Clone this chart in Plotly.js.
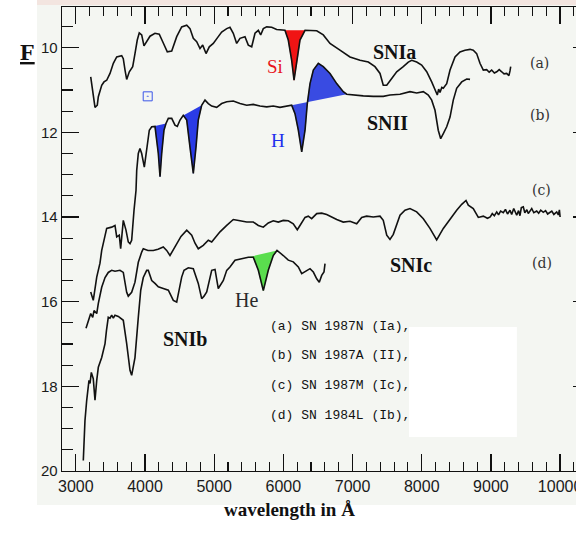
<!DOCTYPE html>
<html>
<head>
<meta charset="utf-8">
<script src="https://cdn.plot.ly/plotly-3.0.1.min.js"></script>
<style>
  html, body { margin: 0; padding: 0; background: #ffffff; }
  #chart { width: 576px; height: 536px; }
</style>
</head>
<body>
<div id="chart"></div>
<script>
// Supernova spectra: flux F (offset, magnitude-like, increasing downward) vs wavelength in Angstrom.

// (a) SN 1987N (Ia)
const wlA = [3215,3252,3277,3310,3325,3374,3407,3446,3494,3542,3591,3663,3686,3711,3735,3773,3822,3855,3888,3917,
  3952,3985,4024,4072,4144,4206,4256,4322,4386,4458,4530,4603,4650,4698,4747,4795,4834,4882,4929,4987,
  5059,5108,5181,5228,5276,5325,5373,5445,5493,5542,5590,5638,5672,5710,5759,5831,5903,5976,6023,6071,
  6120,6154,6193,6240,6313,6385,6482,6577,6674,6818,6963,7108,7228,7324,7397,7444,7494,7566,7638,7733,
  7806,7855,7927,7999,8072,8144,8192,8225,8245,8264,8290,8312,8361,8409,8481,8553,8625,8698,8745,8794,
  8842,8890,8939,8975,9011,9050,9084,9120,9156,9190,9228,9260,9276,9286];
const fluxA = [10.69,11.16,11.41,11.36,11.16,10.89,10.81,10.77,10.61,10.37,10.22,10.19,10.26,10.53,10.75,10.57,10.45,10.14,9.82,9.65,
  9.70,9.96,9.86,9.73,9.66,9.68,9.86,10.10,10.08,9.74,9.51,9.47,9.55,9.78,9.86,10.02,9.94,10.14,9.98,9.90,
  9.74,9.63,9.55,9.52,9.66,9.90,9.78,9.74,9.94,9.98,9.66,9.59,9.70,9.55,9.51,9.52,9.57,9.59,9.59,9.82,
  10.30,10.77,10.37,9.82,9.59,9.60,9.60,9.70,9.90,10.06,10.22,10.30,10.34,10.45,10.61,10.89,10.89,10.73,10.57,10.45,
  10.34,10.30,10.34,10.41,10.57,10.81,11.00,11.12,10.98,11.06,10.94,10.96,10.85,10.53,10.22,10.10,10.06,10.04,10.06,10.14,
  10.37,10.53,10.52,10.58,10.53,10.60,10.57,10.52,10.57,10.62,10.61,10.66,10.55,10.45];

// (b) SN 1987A (II)
const wlB = [3215,3252,3302,3349,3374,3422,3446,3518,3566,3591,3628,3648,3686,3725,3758,3783,3807,3841,3870,
  3880,3903,3927,3952,3990,4024,4062,4097,4144,4192,4217,4241,4274,4303,4337,4386,4433,4467,4506,4553,
  4603,4650,4698,4737,4770,4819,4867,4915,4964,5036,5108,5181,5276,5373,5470,5565,5662,5759,5854,5951,
  6048,6120,6168,6216,6265,6313,6346,6385,6433,6505,6577,6674,6771,6866,6915,7011,7155,7300,7444,7541,
  7686,7830,7927,8023,8095,8144,8192,8239,8274,8312,8361,8409,8456,8505,8578,8650,8698];
const fluxB = [15.77,15.97,15.42,15.09,14.79,14.39,14.27,14.24,14.20,14.47,14.43,14.75,14.08,14.31,14.59,14.63,14.55,13.84,13.37,
  12.90,12.50,12.38,12.50,12.82,12.35,11.95,11.87,11.86,12.50,13.05,12.50,11.95,11.79,11.67,11.67,11.83,11.86,11.71,11.60,
  11.71,12.35,12.97,12.35,11.71,11.36,11.24,11.32,11.38,11.41,11.32,11.28,11.26,11.32,11.36,11.34,11.38,11.40,11.38,11.41,
  11.38,11.36,11.56,11.95,12.46,11.95,11.32,10.85,10.53,10.37,10.45,10.61,10.85,11.04,11.10,11.12,11.14,11.15,11.15,11.12,
  11.10,11.04,11.07,11.04,11.12,11.24,11.48,11.95,12.15,12.03,11.87,11.64,11.24,10.96,10.81,10.74,10.75];

// (c) SN 1987M (Ic)
const wlC = [3147,3180,3215,3244,3263,3302,3325,3374,3422,3469,3518,3566,3638,3686,3711,3735,3758,3807,3855,3903,
  3952,3975,4043,4120,4188,4264,4313,4361,4404,4458,4520,4603,4675,4723,4770,4842,4915,4964,5026,5084,
  5181,5276,5373,5470,5565,5638,5710,5782,5854,5927,5999,6071,6143,6201,6240,6313,6360,6409,6482,6554,
  6626,6698,6771,6866,6963,7060,7132,7204,7300,7397,7444,7494,7541,7589,7638,7686,7758,7830,7927,8023,
  8119,8216,8312,8409,8505,8578,8640,8673,8745,8818,8890,8950,8990,9020,9050,9084,9110,9140,9179,9210,
  9240,9276,9300,9330,9373,9400,9420,9440,9468,9490,9520,9540,9565,9590,9620,9662,9690,9720,9757,9790,
  9820,9854,9880,9910,9951,9975,9990,10000];
const fluxC = [16.63,16.44,16.28,16.37,16.21,16.28,16.04,15.66,15.43,15.31,15.26,15.28,15.26,15.31,15.57,15.78,15.87,15.78,15.54,15.07,
  14.83,14.75,14.79,14.79,14.76,14.71,14.79,14.91,14.79,14.63,14.46,14.31,14.43,14.62,14.75,14.67,14.55,14.59,14.46,14.35,
  14.20,14.06,14.09,14.12,14.12,14.20,14.24,14.14,14.09,14.12,14.08,14.09,14.16,14.30,14.20,14.01,13.98,14.04,13.92,13.91,
  13.94,14.00,14.06,14.12,14.10,14.16,14.01,13.98,14.00,13.98,14.08,14.43,14.53,14.41,14.16,13.96,13.84,13.80,13.88,14.04,
  14.27,14.54,14.27,14.04,13.84,13.70,13.61,13.72,13.80,14.01,13.98,14.03,14.00,13.92,13.97,13.88,13.95,13.86,13.90,13.82,
  13.93,13.84,13.94,13.80,13.96,13.85,13.97,13.78,13.76,13.90,13.83,13.92,13.86,13.80,13.90,13.86,13.91,13.84,13.89,13.85,
  13.93,13.90,13.86,13.94,13.88,13.95,13.83,14.00];

// (d) SN 1984L (Ib)
const wlD = [3108,3118,3132,3157,3176,3190,3205,3224,3252,3277,3302,3325,3374,3422,3443,3469,3494,3518,3542,3566,
  3614,3653,3686,3735,3783,3807,3855,3903,3938,3975,4024,4047,4097,4144,4192,4264,4337,4409,4458,4530,
  4564,4626,4698,4770,4819,4853,4892,4964,5012,5059,5132,5181,5228,5301,5397,5493,5565,5638,5710,5782,
  5854,5908,5999,6071,6143,6216,6265,6337,6385,6433,6482,6519,6554,6587,6602];
const fluxD = [19.75,19.40,18.81,18.33,18.10,17.86,17.93,17.67,17.82,18.33,17.86,17.55,17.32,16.99,16.68,16.37,16.39,16.32,16.39,16.32,
  16.35,16.39,16.44,16.99,17.62,17.74,17.32,16.37,15.73,15.43,15.26,15.26,15.50,15.57,15.65,15.69,15.73,15.97,16.01,15.42,
  15.26,15.20,15.22,15.57,15.93,15.87,15.77,15.26,15.24,15.69,15.50,15.26,15.18,15.02,14.98,14.95,14.95,15.26,15.74,15.26,
  14.91,14.79,14.91,15.02,15.06,15.18,15.34,15.26,15.22,15.30,15.46,15.54,15.38,15.30,15.10];

// Wavelength windows of the shaded line features
const siBand  = [6023, 6313];   // Si II, on (a)
const hGamma  = [4097, 4303];   // H, on (b)
const hBeta   = [4553, 4819];
const hAlpha  = [6120, 6915];
const heBand  = [5493, 5908];   // He I, on (d)

const xTicks = [3000,4000,5000,6000,7000,8000,9000,10000];
const yTicks = [10,12,14,16,18,20];
const legendLines = ['(a) SN 1987N (Ia),', '(b) SN 1987A (II),', '(c) SN 1987M (Ic),', '(d) SN 1984L (Ib),'];

function band(wl, fl, win) {
  const x = [], y = [];
  for (let i = 0; i < wl.length; i++) {
    if (wl[i] >= win[0] && wl[i] <= win[1]) { x.push(wl[i]); y.push(fl[i]); }
  }
  return {x, y};
}

function fillTrace(wl, fl, win, color) {
  const b = band(wl, fl, win);
  return {x: b.x, y: b.y, mode: 'lines', fill: 'toself', fillcolor: color,
          line: {width: 0.5, color: color}, hoverinfo: 'skip', showlegend: false};
}

function lineTrace(wl, fl) {
  return {x: wl, y: fl, mode: 'lines', line: {color: '#111111', width: 1.6},
          hoverinfo: 'x+y', showlegend: false};
}

const traces = [
  fillTrace(wlA, fluxA, siBand, '#f01414'),
  fillTrace(wlB, fluxB, hGamma, '#2a3be6'),
  fillTrace(wlB, fluxB, hBeta, '#2a3be6'),
  fillTrace(wlB, fluxB, hAlpha, 'rgba(40,60,225,0.92)'),
  fillTrace(wlD, fluxD, heBand, '#5ade4e'),
  lineTrace(wlA, fluxA),
  lineTrace(wlB, fluxB),
  lineTrace(wlC, fluxC),
  lineTrace(wlD, fluxD),
  // little boxed dot next to the Ia continuum
  {x: [4039], y: [11.15], mode: 'markers', hoverinfo: 'skip', showlegend: false,
   marker: {symbol: 'square-open-dot', size: 9, color: '#3a55e8', line: {width: 1, color: '#5a70ee'}}},
  // carrier for the right-hand tick marks
  {x: wlA, y: fluxA, yaxis: 'y2', mode: 'lines', opacity: 0, hoverinfo: 'skip', showlegend: false}
];

const serif = 'Liberation Serif, Times New Roman, serif';
const mono = 'Liberation Mono, Courier New, monospace';
const sans = 'Liberation Sans, Arial, sans-serif';
const tag = 'DejaVu Serif, serif';

const annotations = [
  {text: '<b>SNIa</b>', x: 7613, y: 10.11, xref: 'x', yref: 'y', showarrow: false, font: {family: serif, size: 20, color: '#111'}},
  {text: '<b>SNII</b>', x: 7498, y: 11.78, xref: 'x', yref: 'y', showarrow: false, font: {family: serif, size: 20, color: '#111'}},
  {text: '<b>SNIc</b>', x: 7845, y: 15.14, xref: 'x', yref: 'y', showarrow: false, font: {family: serif, size: 20, color: '#111'}},
  {text: '<b>SNIb</b>', x: 4578, y: 16.89, xref: 'x', yref: 'y', showarrow: false, font: {family: serif, size: 20, color: '#111'}},
  {text: 'Si', x: 5879, y: 10.44, xref: 'x', yref: 'y', showarrow: false, font: {family: serif, size: 19, color: '#e8141a'}},
  {text: 'H', x: 5922, y: 12.19, xref: 'x', yref: 'y', showarrow: false, font: {family: serif, size: 19, color: '#1f2fee'}},
  {text: 'He', x: 5460, y: 15.97, xref: 'x', yref: 'y', showarrow: false, font: {family: serif, size: 20, color: '#2a2a2a'}},
  {text: '(a)', x: 9709, y: 10.37, xref: 'x', yref: 'y', showarrow: false, font: {family: tag, size: 14, color: '#333'}},
  {text: '(b)', x: 9709, y: 11.60, xref: 'x', yref: 'y', showarrow: false, font: {family: tag, size: 14, color: '#333'}},
  {text: '(c)', x: 9738, y: 13.37, xref: 'x', yref: 'y', showarrow: false, font: {family: tag, size: 14, color: '#333'}},
  {text: '(d)', x: 9738, y: 15.09, xref: 'x', yref: 'y', showarrow: false, font: {family: tag, size: 14, color: '#333'}},
  {text: '<b>wavelength in Å</b>', x: 0.311, y: -0.11, xref: 'paper', yref: 'paper', showarrow: false,
   font: {family: serif, size: 19, color: '#111'}},
  {text: '<b><u>F</u></b>', x: -0.0856, y: 0.935, xref: 'paper', yref: 'paper', showarrow: false,
   font: {family: serif, size: 24, color: '#111'}}
];

const legendRows = [0.2909, 0.2284, 0.1638, 0.0991];
legendLines.forEach((t, i) => {
  annotations.push({text: t, x: 0.4008, y: legendRows[i], xref: 'paper', yref: 'paper', xanchor: 'left',
    showarrow: false, font: {family: mono, size: 13, color: '#111'}});
});

const layout = {
  width: 576, height: 536,
  margin: {l: 62, r: 0, t: 7, b: 65},
  paper_bgcolor: '#ffffff',
  plot_bgcolor: 'rgba(0,0,0,0)',
  showlegend: false,
  xaxis: {
    range: [2800, 10230], autorange: false,
    tickvals: xTicks, ticktext: xTicks.map(String),
    ticks: 'inside', ticklen: 17, tickwidth: 1.2, tickcolor: '#111',
    showline: true, linecolor: '#111', linewidth: 1.3, mirror: 'ticks',
    showgrid: false, zeroline: false, ticklabeloverflow: 'allow',
    minor: {ticks: 'inside', ticklen: 9, dtick: 200, tick0: 2800, tickwidth: 1.1, tickcolor: '#111', showgrid: false},
    tickfont: {family: sans, size: 16, color: '#1a1a1a'}
  },
  yaxis: {
    range: [20, 9.04], autorange: false,
    tickvals: yTicks, ticktext: yTicks.map(String),
    ticks: 'inside', ticklen: 17, tickwidth: 1.2, tickcolor: '#111',
    showline: true, linecolor: '#111', linewidth: 1.3,
    showgrid: false, zeroline: false,
    minor: {ticks: 'inside', ticklen: 11, dtick: 0.5, tick0: 10, tickwidth: 1.1, tickcolor: '#111', showgrid: false},
    tickfont: {family: sans, size: 15, color: '#1a1a1a'}
  },
  yaxis2: {
    overlaying: 'y', side: 'right', anchor: 'x',
    range: [20, 9.04], autorange: false,
    tickvals: yTicks, ticks: 'inside', ticklen: 3, tickwidth: 1.2, tickcolor: '#111',
    showticklabels: false, showline: false, showgrid: false, zeroline: false
  },
  shapes: [
    // scanned page tone
    {type: 'rect', xref: 'paper', yref: 'paper', x0: -0.0486, x1: 1.02, y0: -0.0733, y1: 1.02,
     fillcolor: '#f4f6f2', line: {width: 0}, layer: 'below'},
    {type: 'rect', xref: 'paper', yref: 'paper', x0: -0.0486, x1: 1.02, y0: 1.0043, y1: 1.02,
     fillcolor: '#f3e5e0', line: {width: 0}, layer: 'below'},
    // blank panel beside the key
    {type: 'rect', xref: 'paper', yref: 'paper', x0: 0.675, x1: 0.885, y0: 0.0733, y1: 0.3103,
     fillcolor: '#ffffff', line: {width: 0}, layer: 'below'}
  ],
  annotations: annotations
};

Plotly.newPlot('chart', traces, layout, {displayModeBar: false, staticPlot: true});
</script>
</body>
</html>
